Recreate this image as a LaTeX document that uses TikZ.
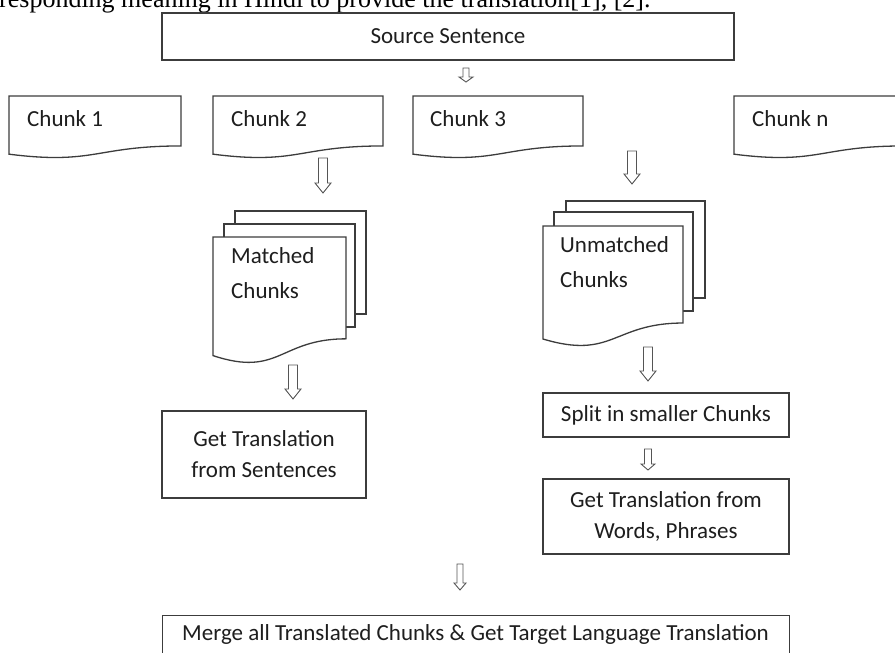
\documentclass[tikz,border=0pt]{standalone}
\usepackage{fontspec}
\setmainfont{Carlito}
\newfontfamily\bodyserif{Liberation Serif}
\definecolor{boxgray}{HTML}{3C3C3C}
\definecolor{arrgray}{HTML}{555555}
\definecolor{txt}{HTML}{1E1E1E}
\tikzset{
  box/.style={draw=boxgray, line width=1.3pt, fill=white},
  rectbox/.style={box, inner sep=0pt, align=center, text=txt, font=\fontsize{23}{31}\selectfont},
  lbl/.style={inner sep=0pt, anchor=base west, text=txt, font=\fontsize{23}{27}\selectfont},
  arr/.style={draw=arrgray, line width=0.9pt, fill=white, line join=miter},
}
% document shape: x, ytop, width, height
\newcommand\docshape[4]{%
  \draw[box] (#1,#2) -- (#1+#3,#2) -- (#1+#3,#2+0.8019*#4)
    .. controls (#1+0.5*#3,#2+0.8019*#4) and (#1+0.5*#3,#2+1.1075*#4) ..
    (#1,#2+0.9339*#4) -- cycle;}
% hollow block arrow: x, ytop, ybottom, shaft half width, head half width, head length
\newcommand\blkarrow[6]{%
  \draw[arr] (#1-#4,#2) -- (#1+#4,#2) -- (#1+#4,#3-#6) -- (#1+#5,#3-#6)
    -- (#1,#3) -- (#1-#5,#3-#6) -- (#1-#4,#3-#6) -- cycle;}
\begin{document}
\begin{tikzpicture}[x=1pt,y=-1pt]
\useasboundingbox (0,0) rectangle (895,653);
\clip (0,0) rectangle (895,653);
% cropped body text line at the top
\node[inner sep=0pt, anchor=base west, font=\bodyserif\fontsize{26}{30}\selectfont] (bodyline) at (-1,7)
  {responding meaning in Hindi to provide the translation[1], [2].};
% source sentence
\node[rectbox, minimum width=572pt, minimum height=47pt] (src) at (448,36.5) {Source Sentence};
% chunks
\docshape{9}{96}{172}{62.3}
\node[lbl] (c1) at (27,126) {Chunk 1};
\docshape{213}{96}{170}{62.3}
\node[lbl] (c2) at (231,126) {Chunk 2};
\docshape{413}{96}{170}{62.3}
\node[lbl] (c3) at (430,126) {Chunk 3};
\docshape{734}{96}{170}{62.3}
\node[lbl] (cn) at (752,126) {Chunk n};
% matched chunks (multi-document)
\draw[box] (235,211) rectangle (366,314);
\draw[box] (224,224) rectangle (355,327);
\docshape{213}{237}{133}{127}
\node[lbl] (m1) at (231,263) {Matched};
\node[lbl] (m2) at (231,298) {Chunks};
% unmatched chunks (multi-document)
\draw[box] (566,201) rectangle (705,298);
\draw[box] (554,212) rectangle (693,311);
\docshape{543}{226}{140}{121}
\node[lbl] (u1) at (560,252) {Unmatched};
\node[lbl] (u2) at (560,287) {Chunks};
% process boxes
\node[rectbox, minimum width=204pt, minimum height=87pt] (gts) at (264,454.5)
  {Get Translation\\from Sentences};
\node[rectbox, minimum width=246pt, minimum height=44pt] (split) at (666,415)
  {Split in smaller Chunks};
\node[rectbox, minimum width=246pt, minimum height=75pt] (gtw) at (666,516.5)
  {Get Translation from\\Words, Phrases};
\node[rectbox, minimum width=627pt, minimum height=52pt, anchor=north west] (merge) at (162,615)
  {\strut};
\node[lbl, anchor=base, text=txt] (mergetext) at (475.5,640)
  {Merge all Translated Chunks \& Get Target Language Translation};
% block arrows
\blkarrow{466}{68}{82}{3}{7}{5}
\blkarrow{323}{158}{193}{4.5}{8}{10}
\blkarrow{632}{151}{184}{4.5}{8}{10}
\blkarrow{293}{365}{399}{4.5}{8}{10}
\blkarrow{648}{347}{381}{4.5}{8}{10}
\blkarrow{648}{449}{470}{3.5}{7}{6}
\blkarrow{460}{564}{590}{3}{6}{7}
\end{tikzpicture}
\end{document}
